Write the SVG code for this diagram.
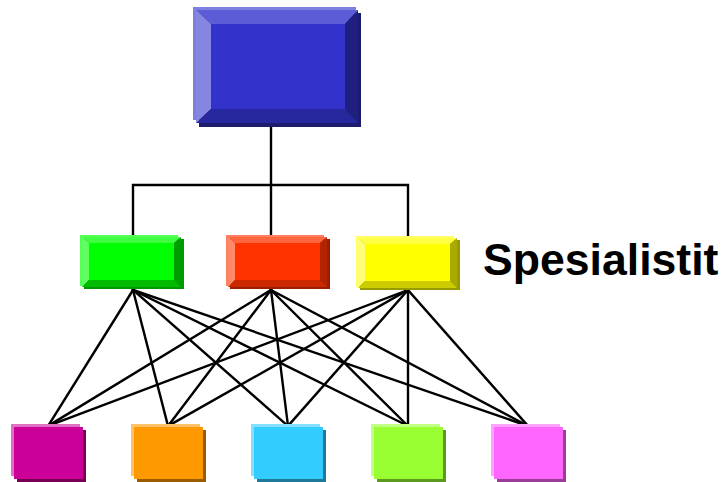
<svg xmlns="http://www.w3.org/2000/svg" width="725" height="482" viewBox="0 0 725 482">
  <style>
    .wire { stroke: #000; stroke-width: 2.4; fill: none; stroke-linecap: square; }
    .label { font-family: "Liberation Sans", Arial, sans-serif; font-weight: bold; font-size: 44.6px; fill: #000; }
    #green .hi { fill: #55ff55; } #green .sh { fill: #009900; } #green .bt { fill: #40ff40; }
    #green .bl { fill: #60ff60; } #green .br { fill: #009f00; } #green .bb { fill: #00bb00; } #green .fc { fill: #00ff00; }
    #red .hi { fill: #ff8060; } #red .sh { fill: #991f00; } #red .bt { fill: #ff6640; }
    #red .bl { fill: #ff8866; } #red .br { fill: #b32400; } #red .bb { fill: #cc2900; } #red .fc { fill: #ff3300; }
    #yellow .hi { fill: #ffff66; } #yellow .sh { fill: #999900; } #yellow .bt { fill: #ffff44; }
    #yellow .bl { fill: #ffff77; } #yellow .br { fill: #aaaa00; } #yellow .bb { fill: #cccc00; } #yellow .fc { fill: #ffff00; }
    #b1 .hi { fill: #e070c4; } #b1 .sh { fill: #770055; } #b1 .fc { fill: #cc0099; }
    #b2 .hi { fill: #ffc266; } #b2 .sh { fill: #995c00; } #b2 .fc { fill: #ff9900; }
    #b3 .hi { fill: #85e0ff; } #b3 .sh { fill: #1f7a99; } #b3 .fc { fill: #33ccff; }
    #b4 .hi { fill: #c2ff85; } #b4 .sh { fill: #5c991f; } #b4 .fc { fill: #99ff33; }
    #b5 .hi { fill: #ffa3ff; } #b5 .sh { fill: #993d99; } #b5 .fc { fill: #ff66ff; }
  </style>

  <g id="connectors">
    <path class="wire" d="M271,125 V185 M133,185 H408 M133,185 V235 M271,185 V235 M408,185 V236"/>
    <g class="wire">
      <line x1="133" y1="290" x2="48" y2="426"/>
      <line x1="133" y1="290" x2="168" y2="426"/>
      <line x1="133" y1="290" x2="288" y2="426"/>
      <line x1="133" y1="290" x2="408" y2="426"/>
      <line x1="133" y1="290" x2="528" y2="426"/>
      <line x1="271" y1="290" x2="48" y2="426"/>
      <line x1="271" y1="290" x2="168" y2="426"/>
      <line x1="271" y1="290" x2="288" y2="426"/>
      <line x1="271" y1="290" x2="408" y2="426"/>
      <line x1="271" y1="290" x2="528" y2="426"/>
      <line x1="408" y1="290" x2="48" y2="426"/>
      <line x1="408" y1="290" x2="168" y2="426"/>
      <line x1="408" y1="290" x2="288" y2="426"/>
      <line x1="408" y1="290" x2="408" y2="426"/>
      <line x1="408" y1="290" x2="528" y2="426"/>
    </g>
  </g>

  <!-- top beveled button -->
  <g id="top" transform="translate(193,7)">
    <rect x="0" y="0" width="163" height="113" fill="#7f7fe0"/>
    <rect x="6" y="6" width="162" height="114" fill="#1c1c6e"/>
    <polygon points="3,3 165,3 152,17 18,17" fill="#5c5cd6"/>
    <polygon points="3,3 18,17 18,102 3,116" fill="#8585e2"/>
    <polygon points="165,3 165,116 152,102 152,17" fill="#1f1f80"/>
    <polygon points="3,116 165,116 152,102 18,102" fill="#28289e"/>
    <rect x="18" y="17" width="134" height="85" fill="#3333cc"/>
  </g>

  <!-- middle row: beveled buttons -->
  <g id="green" transform="translate(80,235)">
    <rect class="hi" x="0" y="0" width="98" height="51"/>
    <rect class="sh" x="4" y="4" width="100" height="50"/>
    <polygon class="bt" points="2,2 101,2 94,8 9,8"/>
    <polygon class="bl" points="2,2 9,8 9,45 2,52"/>
    <polygon class="br" points="101,2 101,52 94,45 94,8"/>
    <polygon class="bb" points="2,52 101,52 94,45 9,45"/>
    <rect class="fc" x="9" y="8" width="85" height="37"/>
  </g>
  <g id="red" transform="translate(226,235)">
    <rect class="hi" x="0" y="0" width="98" height="51"/>
    <rect class="sh" x="4" y="4" width="100" height="50"/>
    <polygon class="bt" points="2,2 101,2 94,8 9,8"/>
    <polygon class="bl" points="2,2 9,8 9,45 2,52"/>
    <polygon class="br" points="101,2 101,52 94,45 94,8"/>
    <polygon class="bb" points="2,52 101,52 94,45 9,45"/>
    <rect class="fc" x="9" y="8" width="85" height="37"/>
  </g>
  <g id="yellow" transform="translate(356,236)">
    <rect class="hi" x="0" y="0" width="98" height="51"/>
    <rect class="sh" x="4" y="4" width="100" height="50"/>
    <polygon class="bt" points="2,2 101,2 94,8 9,8"/>
    <polygon class="bl" points="2,2 9,8 9,45 2,52"/>
    <polygon class="br" points="101,2 101,52 94,45 94,8"/>
    <polygon class="bb" points="2,52 101,52 94,45 9,45"/>
    <rect class="fc" x="9" y="8" width="85" height="37"/>
  </g>

  <!-- bottom row: flat tiles with highlight and drop shadow -->
  <g id="b1" transform="translate(11,424)">
    <rect class="hi" x="0" y="0" width="69" height="52"/>
    <rect class="sh" x="6" y="6" width="69" height="52"/>
    <rect class="fc" x="3" y="3" width="69" height="52"/>
  </g>
  <g id="b2" transform="translate(131,424)">
    <rect class="hi" x="0" y="0" width="69" height="52"/>
    <rect class="sh" x="6" y="6" width="69" height="52"/>
    <rect class="fc" x="3" y="3" width="69" height="52"/>
  </g>
  <g id="b3" transform="translate(251,424)">
    <rect class="hi" x="0" y="0" width="69" height="52"/>
    <rect class="sh" x="6" y="6" width="69" height="52"/>
    <rect class="fc" x="3" y="3" width="69" height="52"/>
  </g>
  <g id="b4" transform="translate(371,424)">
    <rect class="hi" x="0" y="0" width="69" height="52"/>
    <rect class="sh" x="6" y="6" width="69" height="52"/>
    <rect class="fc" x="3" y="3" width="69" height="52"/>
  </g>
  <g id="b5" transform="translate(491,424)">
    <rect class="hi" x="0" y="0" width="69" height="52"/>
    <rect class="sh" x="6" y="6" width="69" height="52"/>
    <rect class="fc" x="3" y="3" width="69" height="52"/>
  </g>

  <g id="label">
    <text class="label" x="483" y="275">Spesialistit</text>
  </g>
</svg>
